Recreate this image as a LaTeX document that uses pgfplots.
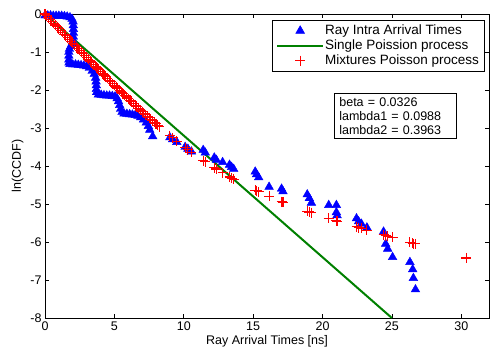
\documentclass[border=0pt]{standalone}
\usepackage{pgfplots}
\pgfplotsset{compat=1.18}
\usepackage{fontspec}
\setmainfont{Liberation Sans}
\newcommand{\chartfont}{\fontsize{12.5}{14}\selectfont}
\newcommand{\legfont}{\fontsize{13.5}{14}\selectfont}
\begin{document}
\begin{tikzpicture}
\begin{axis}[
  scale only axis, width=444pt, height=304pt,
  xmin=0, xmax=32, ymin=-8, ymax=0,
  xtick={0,5,10,15,20,25,30}, ytick={-8,-7,-6,-5,-4,-3,-2,-1,0},
  tick align=inside, major tick length=4pt,
  /pgf/number format/assume math mode=true,
  tick label style={font=\chartfont},
  label style={font=\chartfont},
  xlabel={Ray Arrival Times [ns]}, ylabel={ln(CCDF)},
  xlabel style={yshift=2pt},
  clip=false,
  axis line style={line width=0.8pt},
  every tick/.style={black, line width=0.6pt},
  legend style={at={(0.511,0.98)}, anchor=north west, draw=black, line width=0.6pt,
    font=\legfont, inner xsep=4pt, inner ysep=3pt, row sep=0pt,
    nodes={inner ysep=1.8pt, inner xsep=1pt}},
  legend cell align=left,
  legend image code/.code={\draw[mark repeat=2,mark phase=2,#1] plot coordinates {(0pt,0pt)(23pt,0pt)(46pt,0pt)};},
]
\addplot[only marks, mark=triangle*, mark size=5pt, color=blue, mark options={draw=blue, fill=blue}] coordinates {
(0,-0.04)(0.2,-0.04)(0.4,-0.04)(0.6,-0.05)(0.8,-0.05)(1.0,-0.05)(1.2,-0.05)(1.4,-0.06)(1.6,-0.07)(1.8,-0.09)(1.95,-0.13)
(2.02,-0.2)(2.04,-0.3)(2.05,-0.4)(2.05,-0.5)(2.04,-0.6)(2.02,-0.7)(1.95,-0.78)
(1.85,-0.85)(1.76,-0.92)(1.72,-1.0)(1.72,-1.1)(1.72,-1.2)(1.73,-1.28)
(1.8,-1.32)(2.0,-1.33)(2.2,-1.33)(2.4,-1.34)(2.6,-1.35)(2.8,-1.36)(3.0,-1.38)(3.2,-1.42)(3.4,-1.5)(3.55,-1.58)
(3.65,-1.68)(3.68,-1.78)(3.7,-1.88)(3.7,-1.98)(3.72,-2.06)
(3.85,-2.12)(4.05,-2.13)(4.25,-2.14)(4.45,-2.15)(4.65,-2.15)(4.85,-2.16)(5.05,-2.17)(5.2,-2.22)
(5.3,-2.3)(5.38,-2.4)(5.45,-2.5)(5.55,-2.58)
(5.7,-2.62)(5.9,-2.63)(6.1,-2.64)(6.3,-2.65)(6.5,-2.66)(6.7,-2.68)(6.9,-2.72)(7.1,-2.78)(7.3,-2.86)(7.45,-2.95)(7.55,-3.05)
(7.76,-3.22)
(9.0,-3.25)(9.2,-3.3)(9.5,-3.37)(10.1,-3.5)(10.3,-3.55)(10.55,-3.62)(11.4,-3.58)(11.55,-3.65)
(12.2,-3.78)(12.35,-3.84)(12.8,-3.9)(13.3,-3.97)(13.45,-4.03)(13.6,-4.08)
(15.15,-4.15)(15.25,-4.22)(15.4,-4.3)(16.15,-4.55)(17.05,-4.6)(17.15,-4.67)
(18.9,-4.75)(19.05,-4.85)(19.2,-4.97)(20.45,-5.03)(21.0,-5.03)(21.0,-5.22)(21.05,-5.3)
(22.45,-5.38)(22.6,-5.46)(22.8,-5.52)(23.2,-5.62)(24.4,-5.73)(24.55,-6.05)(24.7,-6.18)(25.05,-6.4)
(26.3,-6.53)(26.5,-6.72)(26.55,-6.95)(26.7,-7.25)
};
\addlegendentry{Ray Intra Arrival Times}
\addplot[color=green!50!black, line width=2pt, no marks] coordinates {(0,0) (25,-8)};
\addlegendentry{Single Poission process}
\addplot[only marks, mark=+, mark size=5pt, draw=red, color=red, mark options={draw=red, line width=1.1pt}] coordinates {
(0,0)(0.125,-0.048)(0.25,-0.097)(0.375,-0.145)(0.5,-0.193)(0.625,-0.241)(0.75,-0.289)(0.875,-0.337)
(1,-0.385)(1.125,-0.432)(1.25,-0.48)(1.375,-0.528)(1.5,-0.576)(1.625,-0.623)(1.75,-0.671)(1.875,-0.718)
(2,-0.766)(2.125,-0.813)(2.25,-0.86)(2.375,-0.908)(2.5,-0.955)(2.625,-1.002)(2.75,-1.049)(2.875,-1.096)
(3,-1.143)(3.125,-1.19)(3.25,-1.236)(3.375,-1.283)(3.5,-1.329)(3.625,-1.375)(3.75,-1.421)(3.875,-1.467)
(4,-1.513)(4.125,-1.559)(4.25,-1.605)(4.375,-1.65)(4.5,-1.696)(4.625,-1.741)(4.75,-1.786)(4.875,-1.831)
(5,-1.876)(5.125,-1.92)(5.25,-1.965)(5.375,-2.009)(5.5,-2.053)(5.625,-2.097)(5.75,-2.14)(5.875,-2.184)
(6,-2.228)(6.125,-2.271)(6.25,-2.314)(6.375,-2.357)(6.5,-2.4)(6.625,-2.442)(6.75,-2.484)(6.875,-2.526)
(7,-2.568)(7.125,-2.609)(7.25,-2.65)(7.375,-2.692)(7.5,-2.733)(7.625,-2.773)(7.75,-2.813)(7.875,-2.853)
(8,-2.893)(8.125,-2.93)(8.25,-2.97)
(9.0,-3.2)(9.2,-3.26)(9.5,-3.35)(10.1,-3.52)(10.3,-3.57)(10.55,-3.64)(11.4,-3.86)(11.55,-3.89)
(12.2,-4.05)(12.35,-4.08)(12.8,-4.18)(13.3,-4.29)(13.45,-4.32)(13.6,-4.35)
(15.15,-4.64)(15.25,-4.65)(15.4,-4.68)(16.15,-4.8)(17.05,-4.94)(17.15,-4.95)
(18.9,-5.19)(19.05,-5.21)(19.2,-5.23)(20.45,-5.38)(21.0,-5.44)(21.05,-5.45)
(22.45,-5.6)(22.6,-5.62)(22.8,-5.64)(23.2,-5.69)(24.4,-5.81)(24.55,-5.83)(24.7,-5.85)(25.05,-5.88)
(26.3,-6.01)(26.5,-6.03)(26.55,-6.04)(26.7,-6.05)(30.35,-6.42)
};
\addlegendentry{Mixtures Poisson process}
\node[draw=black, line width=0.6pt, fill=white, anchor=north west, align=left, text width=112pt,
  font=\chartfont, inner xsep=5pt, inner ysep=4pt] at (rel axis cs:0.651,0.740)
  {beta = 0.0326\\lambda1 = 0.0988\\lambda2 = 0.3963};
\end{axis}
\path (current axis.south west) ++(-45pt,-36pt) coordinate (bbA);
\path (current axis.north east) ++(2pt,14pt) coordinate (bbB);
\path (bbA) rectangle (bbB);
\end{tikzpicture}
\end{document}
